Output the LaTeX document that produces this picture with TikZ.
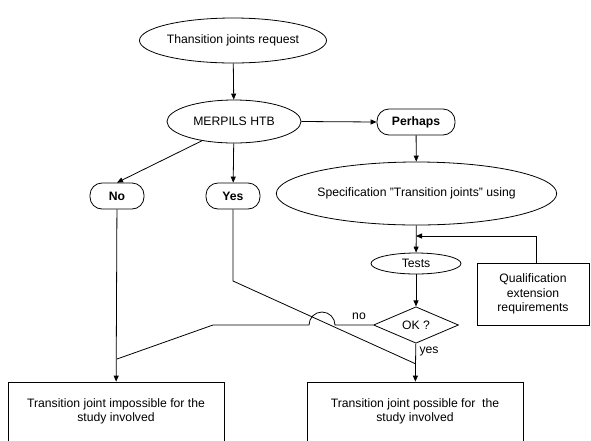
\documentclass[tikz,border=0pt]{standalone}
\usepackage{fontspec}
\setmainfont{Liberation Sans}
\usetikzlibrary{shapes.geometric,arrows.meta}
\begin{document}
\begin{tikzpicture}[x=1pt,y=-1pt,
  line width=0.8pt,
  every node/.style={font=\fontsize{12.2}{14.5}\selectfont, inner sep=0pt, align=center},
  ell/.style={draw, ellipse},
  rnd/.style={draw, rounded corners=12pt, font=\fontsize{12.2}{14}\selectfont\bfseries},
  rect/.style={draw, rectangle},
  arr/.style={-{Triangle[length=6pt,width=5pt]}}
]
\useasboundingbox (0,0) rectangle (591,440);
\node[ell, minimum width=180pt, minimum height=45pt] (req) at (233,40.5) {Thansition joints request};
\node[ell, minimum width=134pt, minimum height=43pt] (mer) at (234,121.5) {MERPILS HTB};
\node[rnd, minimum width=78pt, minimum height=26pt] (per) at (416,122) {Perhaps};
\node[ell, minimum width=229pt, minimum height=63pt] (spec) at (416.5,193.5) {Specification "Transition joints" using};
\node[rnd, minimum width=54pt, minimum height=26pt] (no) at (117,196) {No};
\node[rnd, minimum width=54pt, minimum height=26pt] (yes) at (233,196) {Yes};
\node[ell, minimum width=90pt, minimum height=21pt] (tests) at (416,263.5) {Tests};
\node[rect, minimum width=112pt, minimum height=62pt] (qual) at (533,294) {Qualification\\extension\\requirements};
\node[draw, diamond, minimum width=85pt, minimum height=34pt, inner sep=0pt] (ok) at (416,325) {OK ?};
\node[rect, minimum width=216pt, minimum height=59pt] (lbox) at (116,411.5) {Transition joint impossible for the\\study involved};
\node[rect, minimum width=216pt, minimum height=59pt] (rbox) at (415,411.5) {Transition joint possible for\ \ the\\study involved};
\node (nolab) at (359,316) {no};
\node (yeslab) at (429,351) {yes};
\coordinate (fb1) at (536,236);
\coordinate (fb2) at (416,236);
\coordinate (ybend) at (233,281);
\coordinate (yjoin) at (416,364);
\coordinate (n1) at (335,325);
\coordinate (n2) at (213,325);
\coordinate (njoin) at (117,359);

\draw[arr] (req) -- (mer);
\draw[arr] (mer.east) -- (per.west);
\draw[arr] (per) -- (spec);
\draw[arr] (mer.211) -- (no.north);
\draw[arr] (mer) -- (yes);
\draw[arr] (spec) -- (tests);
\draw[arr] (tests) -- (ok);
\draw[arr] (qual.north -| fb1) -- (fb1) -- (fb2);
\draw[arr] (no) -- (lbox);
\draw[arr] (ok) -- (rbox);
\draw (yes.south) -- (ybend) -- (yjoin);
\draw (ok.west) -- (n1) arc[start angle=0, end angle=180, radius=13pt] -- (n2) -- (njoin);
\end{tikzpicture}
\end{document}
